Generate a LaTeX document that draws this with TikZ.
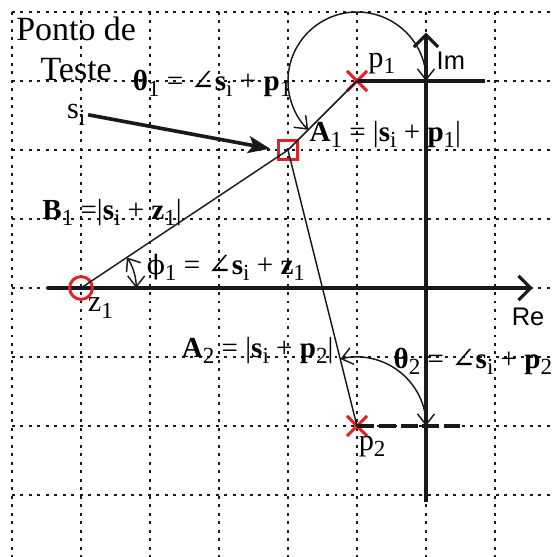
\documentclass[tikz,border=0pt]{standalone}
\usepackage{fontspec}
\setmainfont{Liberation Serif}
\setsansfont{Liberation Sans}
\newfontfamily\symfont{DejaVu Serif}
\usetikzlibrary{positioning, arrows.meta, shapes.misc, calc}
\definecolor{markred}{RGB}{226, 32, 38}
\definecolor{inkblack}{RGB}{25, 25, 25}

\newcommand{\sub}[1]{\raisebox{-0.45ex}{\fontsize{9.5}{10}\selectfont #1}}
\newcommand{\ang}{{\symfont\fontsize{12}{12}\selectfont ∠}}
\newcommand{\phisym}{{\symfont\fontsize{11}{12}\selectfont ϕ}}

\begin{document}
\begin{tikzpicture}[
    >={Straight Barb[length=4.5pt, width=7pt]}, % 开口箭头
    font=\fontsize{12}{14}\selectfont,
    % 组件样式
    gridline/.style={draw=inkblack, line width=0.75pt, dash pattern=on 1.2pt off 2.3pt},
    axis/.style={draw=inkblack, line width=1.3pt, -{Straight Barb[length=5pt, width=10pt]}},
    poleline/.style={draw=inkblack, line width=1.3pt},
    ray/.style={draw=inkblack, line width=0.6pt},
    anglearc/.style={<->, draw=inkblack, line width=0.6pt},
    pole/.style={cross out, draw=markred, line width=1.2pt, minimum size=0.25cm, inner sep=0pt},
    zero/.style={circle, draw=markred, line width=1.2pt, minimum size=0.33cm, inner sep=0pt},
    testpt/.style={rectangle, draw=markred, line width=1.2pt, minimum size=0.27cm, inner sep=0pt},
    eqlabel/.style={font=\fontsize{12}{14}\selectfont, inner sep=1pt},
    ptlabel/.style={font=\fontsize{12.5}{14}\selectfont, inner sep=1pt},
    axlabel/.style={font=\sffamily\fontsize{10.5}{12}\selectfont, inner sep=1pt}
]

\useasboundingbox (-6.174, -3.899) rectangle (1.855, 4.174);

% ==========================================
% 1. 背景点状网格
% ==========================================
\foreach \x in {-6,...,1}
    \draw[gridline] (\x, 4) -- (\x, -3.899);
\foreach \y in {-3,...,4}
    \draw[gridline] (-6, \y) -- (1.855, \y);

% ==========================================
% 2. 坐标轴
% ==========================================
\coordinate (re_start) at (-5.49, 0);
\coordinate (re_end)   at (1.55, 0);
\coordinate (im_start) at (0, -3.10);
\coordinate (im_end)   at (0, 3.70);
\draw[axis] (re_start) -- (re_end);
\draw[axis] (im_start) -- (im_end);
\node[axlabel] (re_lbl) at (1.48, -0.42) {Re};
\node[axlabel] (im_lbl) at (0.36, 3.30) {Im};

% ==========================================
% 3. 极点、零点与测试点
% ==========================================
\node[pole]   (p1) at (-1, 3) {};
\node[pole]   (p2) at (-1, -2) {};
\node[zero]   (z1) at (-5, 0) {};
\node[testpt] (s)  at (-2, 2) {};

% 极点向右的水平参考线
\coordinate (p1_ref) at (0.855, 3);
\coordinate (p2_ref) at (0.49, -2);
\draw[poleline] (p1.center) -- (p1_ref);
\draw[poleline, dash pattern=on 7pt off 2pt] (p2.center) -- (p2_ref);

% 测试点到极点/零点的向量
\draw[ray] (z1.center) -- (s.center);
\draw[ray] (s.center) -- (p1.center);
\draw[ray] (s.center) -- (p2.center);

% ==========================================
% 4. 角度圆弧
% ==========================================
\draw[anglearc] ($(p1.center)+(1,0)$) arc[start angle=0, end angle=225, radius=1];
\draw[anglearc] ($(p2.center)+(1,0)$) arc[start angle=0, end angle=104, radius=1];
\draw[anglearc] ($(z1.center)+(0.8,0)$) arc[start angle=0, end angle=33.7, radius=0.8];

% ==========================================
% 5. 文字标注
% ==========================================
\node[align=center, font=\fontsize{14}{16.5}\selectfont, inner sep=0pt] (ponto) at (-5.07, 3.47) {Ponto de\\Teste};
\node[ptlabel] (s_lbl) at (-5.07, 2.51) {s\sub{i}};
\draw[line width=1.5pt, draw=inkblack, -{Stealth[length=9pt, width=7pt, inset=2pt]}, shorten >=3pt] (s_lbl.east) -- (s.west);

\node[ptlabel] (p1_lbl) at (-0.64, 3.25) {p\sub{1}};
\node[ptlabel] (p2_lbl) at (-0.78, -2.30) {p\sub{2}};
\node[ptlabel] (z1_lbl) at (-4.72, -0.29) {z\sub{1}};

\node[eqlabel] (theta1) at (-3.10, 2.97) {\textbf{θ}\sub{1} = \ang\textbf{s}\sub{i} + \textbf{p}\sub{1}};
\node[eqlabel] (a1)     at (-0.59, 2.22) {\textbf{A}\sub{1} = |\textbf{s}\sub{i} + \textbf{p}\sub{1}|};
\node[eqlabel] (b1)     at (-4.55, 1.10) {\textbf{B}\sub{1} =|\textbf{s}\sub{i} + \textbf{z}\sub{1}|};
\node[eqlabel] (phi1)   at (-2.90, 0.30) {\phisym\sub{1} = \ang\textbf{s}\sub{i} + \textbf{z}\sub{1}};
\node[eqlabel] (a2)     at (-2.44, -0.90) {\textbf{A}\sub{2} = |\textbf{s}\sub{i} + \textbf{p}\sub{2}|};
\node[eqlabel] (theta2) at (0.68, -1.06) {\textbf{θ}\sub{2} = \ang\textbf{s}\sub{i} + \textbf{p}\sub{2}};

\end{tikzpicture}
\end{document}
